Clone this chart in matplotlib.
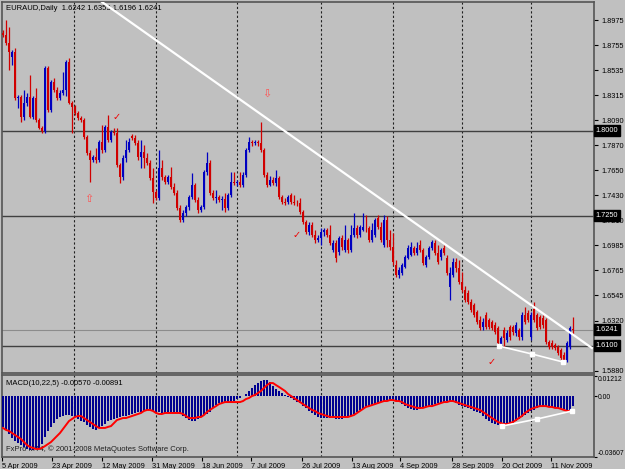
# ===[ Imports ]===============================================================
import matplotlib
matplotlib.use("Agg")
import matplotlib.pyplot as plt

plt.rcParams['font.family'] = ['Liberation Sans', 'DejaVu Sans']

# ===[ Data ]==================================================================
opens = [
    1.8863, 1.8846, 1.8774, 1.8651, 1.8695, 1.8288, 1.8297, 1.8121, 1.8244, 1.8297,
    1.8121, 1.8288, 1.8094, 1.8023, 1.7997, 1.8554, 1.8183, 1.8430, 1.8359, 1.8288,
    1.8332, 1.8359, 1.8607, 1.8244, 1.8209, 1.8156, 1.8112, 1.8094, 1.7944, 1.7802,
    1.7741, 1.7767, 1.7741, 1.7899, 1.7829, 1.8032, 1.7917, 1.7988, 1.7979, 1.7697,
    1.7590, 1.7758, 1.7829, 1.7953, 1.7935, 1.7890, 1.7767, 1.7811, 1.7758, 1.7714,
    1.7581, 1.7457, 1.7404, 1.7670, 1.7590, 1.7546, 1.7590, 1.7502, 1.7448, 1.7316,
    1.7210, 1.7272, 1.7325, 1.7413, 1.7520, 1.7387, 1.7299, 1.7325, 1.7634, 1.7714,
    1.7448, 1.7404, 1.7413, 1.7387, 1.7395, 1.7316, 1.7431, 1.7546, 1.7537, 1.7546,
    1.7520, 1.7608, 1.7829, 1.7899, 1.7890, 1.7899, 1.7890, 1.7829, 1.7608, 1.7520,
    1.7564, 1.7537, 1.7581, 1.7413, 1.7369, 1.7369, 1.7431, 1.7369, 1.7360, 1.7360,
    1.7281, 1.7192, 1.7104, 1.7166, 1.7077, 1.7033, 1.7051, 1.7104, 1.7122, 1.7077,
    1.6945, 1.7007, 1.6927, 1.7051, 1.6945, 1.7033, 1.6945, 1.7077, 1.7139, 1.7077,
    1.7122, 1.7139, 1.7139, 1.7033, 1.7077, 1.7228, 1.7148, 1.6989, 1.7210, 1.7033,
    1.6971, 1.6813, 1.6724, 1.6742, 1.6795, 1.6874, 1.6901, 1.6963, 1.6918, 1.6989,
    1.6945, 1.6813, 1.6883, 1.6963, 1.7007, 1.6918, 1.6883, 1.6963, 1.6874, 1.6618,
    1.6724, 1.6839, 1.6786, 1.6662, 1.6591, 1.6565, 1.6485, 1.6459, 1.6397, 1.6326,
    1.6264, 1.6371, 1.6326, 1.6309, 1.6282, 1.6256, 1.6105, 1.6238, 1.6149, 1.6264,
    1.6264, 1.6211, 1.6238, 1.6176, 1.6371, 1.6388, 1.6176, 1.6424, 1.6371, 1.6353,
    1.6344, 1.6326, 1.6131, 1.6123, 1.6105, 1.6088, 1.6061, 1.6017, 1.5973, 1.6088,
    1.6242]
highs = [
    1.8890, 1.8978, 1.8916, 1.8713, 1.8730, 1.8315, 1.8315, 1.8359, 1.8332, 1.8492,
    1.8306, 1.8377, 1.8112, 1.8041, 1.8572, 1.8572, 1.8448, 1.8465, 1.8386, 1.8359,
    1.8518, 1.8625, 1.8642, 1.8262, 1.8227, 1.8174, 1.8130, 1.8112, 1.7962, 1.7829,
    1.7785, 1.7846, 1.7917, 1.8050, 1.8050, 1.8139, 1.8006, 1.8023, 1.8023, 1.7714,
    1.7785, 1.7917, 1.7935, 1.7971, 1.7962, 1.7917, 1.7917, 1.7873, 1.7802, 1.7741,
    1.7670, 1.7475, 1.7829, 1.7741, 1.7608, 1.7608, 1.7679, 1.7537, 1.7475, 1.7343,
    1.7299, 1.7343, 1.7431, 1.7625, 1.7537, 1.7413, 1.7343, 1.7652, 1.7811, 1.7741,
    1.7475, 1.7475, 1.7431, 1.7422, 1.7448, 1.7448, 1.7634, 1.7634, 1.7564, 1.7634,
    1.7634, 1.7846, 1.7944, 1.7917, 1.7917, 1.7917, 1.8076, 1.7846, 1.7634, 1.7599,
    1.7590, 1.7652, 1.7599, 1.7431, 1.7404, 1.7431, 1.7448, 1.7431, 1.7387, 1.7404,
    1.7299, 1.7210, 1.7192, 1.7192, 1.7122, 1.7077, 1.7139, 1.7139, 1.7139, 1.7166,
    1.7033, 1.7033, 1.7068, 1.7077, 1.7166, 1.7051, 1.7166, 1.7272, 1.7166, 1.7166,
    1.7272, 1.7254, 1.7157, 1.7184, 1.7228, 1.7254, 1.7192, 1.7254, 1.7246, 1.7122,
    1.7095, 1.6857, 1.6795, 1.6830, 1.6901, 1.6989, 1.7015, 1.6980, 1.7015, 1.7033,
    1.6963, 1.6901, 1.6980, 1.7033, 1.7033, 1.6989, 1.6963, 1.6989, 1.6901, 1.6795,
    1.6874, 1.6874, 1.6857, 1.6751, 1.6627, 1.6591, 1.6512, 1.6477, 1.6415, 1.6362,
    1.6344, 1.6397, 1.6344, 1.6326, 1.6309, 1.6273, 1.6185, 1.6264, 1.6238, 1.6282,
    1.6282, 1.6309, 1.6256, 1.6397, 1.6441, 1.6415, 1.6397, 1.6485, 1.6388, 1.6371,
    1.6371, 1.6344, 1.6149, 1.6149, 1.6123, 1.6105, 1.6079, 1.6043, 1.6140, 1.6273,
    1.6353]
lows = [
    1.8828, 1.8757, 1.8536, 1.8581, 1.8271, 1.8200, 1.8076, 1.8094, 1.8218, 1.8112,
    1.8103, 1.8076, 1.8014, 1.7979, 1.7979, 1.8165, 1.8165, 1.8341, 1.8271, 1.8271,
    1.8315, 1.8306, 1.8236, 1.7979, 1.8139, 1.8094, 1.8076, 1.7926, 1.7785, 1.7546,
    1.7723, 1.7714, 1.7723, 1.7802, 1.7811, 1.7899, 1.7899, 1.7962, 1.7679, 1.7537,
    1.7564, 1.7723, 1.7811, 1.7917, 1.7873, 1.7741, 1.7670, 1.7670, 1.7697, 1.7564,
    1.7360, 1.7387, 1.7387, 1.7564, 1.7529, 1.7529, 1.7484, 1.7431, 1.7299, 1.7192,
    1.7192, 1.7246, 1.7299, 1.7395, 1.7369, 1.7272, 1.7281, 1.7307, 1.7608, 1.7431,
    1.7387, 1.7360, 1.7369, 1.7299, 1.7281, 1.7299, 1.7413, 1.7520, 1.7511, 1.7502,
    1.7502, 1.7590, 1.7811, 1.7864, 1.7873, 1.7864, 1.7811, 1.7590, 1.7502, 1.7511,
    1.7520, 1.7511, 1.7395, 1.7351, 1.7343, 1.7351, 1.7351, 1.7343, 1.7334, 1.7263,
    1.7175, 1.7086, 1.7077, 1.7060, 1.7007, 1.7015, 1.6989, 1.7068, 1.7060, 1.6989,
    1.6927, 1.6839, 1.6901, 1.6945, 1.6927, 1.6918, 1.6927, 1.7060, 1.7051, 1.7060,
    1.7113, 1.7104, 1.7015, 1.7015, 1.7060, 1.7130, 1.7015, 1.6971, 1.6971, 1.6945,
    1.6813, 1.6706, 1.6697, 1.6724, 1.6786, 1.6866, 1.6892, 1.6901, 1.6901, 1.6927,
    1.6813, 1.6795, 1.6866, 1.6945, 1.6901, 1.6822, 1.6857, 1.6901, 1.6724, 1.6503,
    1.6706, 1.6751, 1.6644, 1.6574, 1.6485, 1.6468, 1.6397, 1.6353, 1.6291, 1.6238,
    1.6238, 1.6247, 1.6247, 1.6238, 1.6203, 1.6105, 1.6088, 1.6088, 1.6131, 1.6149,
    1.6194, 1.6185, 1.6149, 1.6149, 1.6291, 1.6309, 1.6149, 1.6309, 1.6238, 1.6247,
    1.6256, 1.6114, 1.6070, 1.6070, 1.6061, 1.6017, 1.5973, 1.5955, 1.5955, 1.6070,
    1.6196]
closes = [
    1.8846, 1.8774, 1.8695, 1.8695, 1.8288, 1.8297, 1.8121, 1.8244, 1.8297, 1.8121,
    1.8288, 1.8094, 1.8023, 1.7997, 1.8554, 1.8183, 1.8430, 1.8359, 1.8288, 1.8332,
    1.8359, 1.8607, 1.8244, 1.8209, 1.8156, 1.8112, 1.8094, 1.7944, 1.7802, 1.7741,
    1.7767, 1.7741, 1.7899, 1.7829, 1.8032, 1.7917, 1.7988, 1.7979, 1.7697, 1.7590,
    1.7758, 1.7829, 1.7899, 1.7935, 1.7890, 1.7767, 1.7811, 1.7758, 1.7714, 1.7581,
    1.7457, 1.7404, 1.7670, 1.7590, 1.7546, 1.7590, 1.7502, 1.7448, 1.7316, 1.7210,
    1.7272, 1.7325, 1.7413, 1.7520, 1.7387, 1.7299, 1.7325, 1.7634, 1.7714, 1.7448,
    1.7404, 1.7413, 1.7387, 1.7395, 1.7316, 1.7431, 1.7546, 1.7537, 1.7546, 1.7520,
    1.7608, 1.7829, 1.7899, 1.7890, 1.7899, 1.7890, 1.7829, 1.7608, 1.7520, 1.7564,
    1.7537, 1.7581, 1.7413, 1.7369, 1.7360, 1.7413, 1.7369, 1.7360, 1.7360, 1.7281,
    1.7192, 1.7104, 1.7166, 1.7077, 1.7033, 1.7051, 1.7104, 1.7122, 1.7077, 1.7007,
    1.7007, 1.6874, 1.7051, 1.6971, 1.7033, 1.6945, 1.7077, 1.7139, 1.7077, 1.7148,
    1.7148, 1.7139, 1.7033, 1.7122, 1.7210, 1.7148, 1.7033, 1.7210, 1.7033, 1.6971,
    1.6839, 1.6724, 1.6768, 1.6813, 1.6883, 1.6963, 1.6971, 1.6918, 1.6963, 1.6945,
    1.6830, 1.6883, 1.6963, 1.7015, 1.6918, 1.6839, 1.6945, 1.6918, 1.6742, 1.6742,
    1.6839, 1.6786, 1.6662, 1.6591, 1.6503, 1.6485, 1.6415, 1.6371, 1.6309, 1.6256,
    1.6309, 1.6264, 1.6264, 1.6256, 1.6220, 1.6123, 1.6167, 1.6167, 1.6211, 1.6176,
    1.6220, 1.6282, 1.6176, 1.6371, 1.6309, 1.6326, 1.6371, 1.6326, 1.6256, 1.6264,
    1.6282, 1.6131, 1.6088, 1.6088, 1.6079, 1.6035, 1.5990, 1.5973, 1.6123, 1.6256,
    1.6241]

macd_main = [
    -0.0184, -0.0202, -0.0226, -0.0250, -0.0268, -0.0280, -0.0292, -0.0303, -0.0315, -0.0321,
    -0.0321, -0.0315, -0.0309, -0.0286, -0.0244, -0.0208, -0.0184, -0.0161, -0.0137, -0.0125,
    -0.0119, -0.0113, -0.0113, -0.0119, -0.0125, -0.0137, -0.0149, -0.0155, -0.0173, -0.0184,
    -0.0196, -0.0202, -0.0190, -0.0179, -0.0167, -0.0149, -0.0143, -0.0137, -0.0131, -0.0125,
    -0.0119, -0.0119, -0.0113, -0.0107, -0.0101, -0.0095, -0.0095, -0.0089, -0.0083, -0.0083,
    -0.0089, -0.0095, -0.0095, -0.0101, -0.0101, -0.0101, -0.0101, -0.0101, -0.0101, -0.0107,
    -0.0119, -0.0131, -0.0143, -0.0149, -0.0149, -0.0137, -0.0125, -0.0113, -0.0107, -0.0095,
    -0.0071, -0.0054, -0.0042, -0.0042, -0.0036, -0.0036, -0.0036, -0.0030, -0.0018, -0.0012,
    -0.0002, 0.0012, 0.0030, 0.0048, 0.0065, 0.0077, 0.0089, 0.0095, 0.0095, 0.0083,
    0.0060, 0.0042, 0.0030, 0.0018, 0.0006, -0.0006, -0.0012, -0.0024, -0.0036, -0.0042,
    -0.0060, -0.0071, -0.0089, -0.0101, -0.0113, -0.0125, -0.0131, -0.0131, -0.0131, -0.0131,
    -0.0131, -0.0137, -0.0137, -0.0137, -0.0131, -0.0125, -0.0119, -0.0107, -0.0095, -0.0083,
    -0.0077, -0.0065, -0.0060, -0.0054, -0.0048, -0.0042, -0.0036, -0.0030, -0.0024, -0.0024,
    -0.0024, -0.0030, -0.0036, -0.0048, -0.0060, -0.0071, -0.0077, -0.0083, -0.0083, -0.0077,
    -0.0071, -0.0065, -0.0060, -0.0054, -0.0048, -0.0042, -0.0042, -0.0036, -0.0030, -0.0030,
    -0.0036, -0.0042, -0.0054, -0.0060, -0.0065, -0.0071, -0.0077, -0.0089, -0.0095, -0.0101,
    -0.0119, -0.0137, -0.0149, -0.0161, -0.0167, -0.0173, -0.0179, -0.0179, -0.0173, -0.0167,
    -0.0161, -0.0149, -0.0137, -0.0125, -0.0113, -0.0101, -0.0089, -0.0083, -0.0071, -0.0065,
    -0.0065, -0.0065, -0.0065, -0.0065, -0.0071, -0.0071, -0.0071, -0.0077, -0.0083, -0.0089,
    -0.0057]
macd_signal = [
    -0.0190, -0.0202, -0.0208, -0.0220, -0.0232, -0.0244, -0.0256, -0.0274, -0.0292, -0.0303,
    -0.0309, -0.0315, -0.0315, -0.0309, -0.0298, -0.0286, -0.0274, -0.0256, -0.0238, -0.0220,
    -0.0196, -0.0173, -0.0149, -0.0137, -0.0125, -0.0119, -0.0119, -0.0131, -0.0143, -0.0155,
    -0.0167, -0.0179, -0.0190, -0.0190, -0.0190, -0.0184, -0.0179, -0.0161, -0.0143, -0.0137,
    -0.0131, -0.0131, -0.0125, -0.0119, -0.0113, -0.0107, -0.0101, -0.0089, -0.0083, -0.0083,
    -0.0089, -0.0101, -0.0107, -0.0107, -0.0101, -0.0101, -0.0101, -0.0101, -0.0101, -0.0101,
    -0.0107, -0.0119, -0.0131, -0.0131, -0.0131, -0.0125, -0.0125, -0.0113, -0.0095, -0.0083,
    -0.0071, -0.0060, -0.0048, -0.0042, -0.0036, -0.0036, -0.0036, -0.0036, -0.0036, -0.0036,
    -0.0030, -0.0018, -0.0012, 0.0000, 0.0006, 0.0018, 0.0030, 0.0048, 0.0065, 0.0077,
    0.0077, 0.0065, 0.0054, 0.0042, 0.0030, 0.0012, 0.0000, -0.0012, -0.0024, -0.0036,
    -0.0048, -0.0060, -0.0071, -0.0083, -0.0089, -0.0101, -0.0107, -0.0113, -0.0119, -0.0125,
    -0.0125, -0.0125, -0.0125, -0.0125, -0.0125, -0.0125, -0.0119, -0.0113, -0.0101, -0.0089,
    -0.0077, -0.0065, -0.0060, -0.0054, -0.0048, -0.0042, -0.0036, -0.0030, -0.0030, -0.0024,
    -0.0024, -0.0030, -0.0030, -0.0036, -0.0048, -0.0054, -0.0060, -0.0065, -0.0071, -0.0071,
    -0.0071, -0.0065, -0.0060, -0.0060, -0.0054, -0.0048, -0.0042, -0.0036, -0.0036, -0.0030,
    -0.0030, -0.0036, -0.0042, -0.0048, -0.0054, -0.0060, -0.0065, -0.0071, -0.0077, -0.0083,
    -0.0095, -0.0107, -0.0119, -0.0131, -0.0143, -0.0155, -0.0161, -0.0167, -0.0167, -0.0161,
    -0.0155, -0.0143, -0.0131, -0.0119, -0.0101, -0.0089, -0.0077, -0.0071, -0.0065, -0.0060,
    -0.0060, -0.0060, -0.0065, -0.0065, -0.0071, -0.0071, -0.0077, -0.0083, -0.0089, -0.0089,
    -0.0089]

date_labels = ["5 Apr 2009", "23 Apr 2009", "12 May 2009", "31 May 2009",
               "18 Jun 2009", "7 Jul 2009", "26 Jul 2009", "13 Aug 2009",
               "4 Sep 2009", "28 Sep 2009", "20 Oct 2009", "11 Nov 2009"]
date_bars = [-0.3, 16.3, 33, 49.7, 66.3, 82.7, 99.7, 116.3, 132.3, 149.7,
             166.3, 182.7]
month_bars = [23.7, 51, 78, 106, 130, 153, 176]

# 1.6100 sits under its own level box, so it is not repeated as a tick
price_ticks = [1.8975, 1.8755, 1.8535, 1.8315, 1.8090, 1.7870, 1.7650,
               1.7430, 1.7210, 1.6985, 1.6765, 1.6545, 1.6320, 1.5880]
levels = [1.8000, 1.7250, 1.6100]
bid = 1.6241

macd_ticks = [0.01212, 0.0, -0.03607]
macd_tick_labels = ['0.01212', '0.00', '-0.03607']

trend_bars = [33, 196.3]
trend_prices = [1.9137, 1.6079]
low_line_bars = [165.3, 176.3, 186.7]
low_line_prices = [1.6096, 1.6026, 1.5955]
macd_line_bars = [166.3, 178, 189.7]
macd_line_vals = [-0.0179, -0.0137, -0.0089]

arrow_up = (28.7, 1.7395)
arrow_down = (88, 1.8324)
check_marks = [(38, 1.8121), (97.7, 1.7077), (163, 1.5955)]

# ===[ Figure layout ]=========================================================
BG = '#c0c0c0'
fig = plt.figure(figsize=(6.25, 4.69), dpi=100, facecolor=BG)
ax = fig.add_axes([2 / 625, 1 - 373 / 469, 592 / 625, 371 / 469], facecolor=BG)
ax2 = fig.add_axes([2 / 625, 1 - 457 / 469, 592 / 625, 82 / 469], facecolor=BG)

for a in (ax, ax2):
    for s in a.spines.values():
        s.set_color('#555555')
        s.set_linewidth(1.2)
    a.set_xlim(-0.33, 197)
    for m in month_bars:
        a.axvline(m, color='#202020', lw=0.8, ls=(0, (2, 2)), zorder=1)

# ===[ Candles ]===============================================================
idx = list(range(len(closes)))
cols = ['#0000c0' if c > o else '#d00000' for o, c in zip(opens, closes)]
bottoms = [min(o, c) for o, c in zip(opens, closes)]
heights = [max(abs(c - o), 0.0004) for o, c in zip(opens, closes)]
ax.vlines(idx, lows, highs, colors=cols, lw=0.9, zorder=3)
ax.bar(idx, heights, bottom=bottoms, width=0.7, color=cols, lw=0, zorder=4)

for lv in levels:
    ax.axhline(lv, color='#404040', lw=1.0, zorder=2)
ax.axhline(bid, color='#8c8c8c', lw=0.8, zorder=2)

ax.plot(trend_bars, trend_prices, color='white', lw=1.6, zorder=5)
ax.plot(low_line_bars, low_line_prices, color='white', lw=1.2, marker='s',
        ms=3, zorder=5)

ax.text(arrow_up[0], arrow_up[1], '\u21e7', color='#ff5050', fontsize=8,
        ha='center', va='center', zorder=6)
ax.text(arrow_down[0], arrow_down[1], '\u21e9', color='#ff5050', fontsize=8,
        ha='center', va='center', zorder=6)
for bx, by in check_marks:
    ax.text(bx, by, '\u2713', color='#ee0000', fontsize=7, ha='center',
            va='center', zorder=6)

ax.set_ylim(1.5858, 1.9137)
ax.set_xticks([])
ax.yaxis.tick_right()
ax.set_yticks(price_ticks)
ax.set_yticklabels([f'{p:.4f}' for p in price_ticks])
ax.tick_params(axis='y', length=3, width=0.8, pad=2, labelsize=5.3,
               colors='black')

for lv in levels + [bid]:
    ax.text(1.003, lv, f'{lv:.4f}', transform=ax.get_yaxis_transform(),
            ha='left', va='center', color='white', fontsize=5.3,
            bbox=dict(fc='black', ec='black', pad=1.2), zorder=10,
            clip_on=False)

ax.text(0.006, 0.993, 'EURAUD,Daily  1.6242 1.6353 1.6196 1.6241',
        transform=ax.transAxes, ha='left', va='top', fontsize=5.5)

# ===[ MACD ]==================================================================
ax2.bar(idx, macd_main, width=0.62, color='#000090', lw=0, zorder=3)
ax2.plot(idx, macd_signal, color='#ff0000', lw=1.4, zorder=4)
ax2.plot(macd_line_bars, macd_line_vals, color='white', lw=1.2, marker='s',
         ms=3, zorder=5)
ax2.set_ylim(-0.0363, 0.0125)

ax2.text(0.006, 0.9, 'MACD(10,22,5) -0.00570 -0.00891',
         transform=ax2.transAxes, ha='left', va='center', fontsize=5.5,
         zorder=6)
ax2.text(0.006, 0.1, 'FxPro MT4, \u00a9 2001-2008 MetaQuotes Software Corp.',
         transform=ax2.transAxes, ha='left', va='center', fontsize=5.5,
         color='#202020', zorder=2)

ax2.yaxis.tick_right()
ax2.set_yticks(macd_ticks)
ax2.set_yticklabels(macd_tick_labels)
ax2.tick_params(axis='y', length=2, width=0.8, pad=1, labelsize=4.9,
                colors='black')
ylabels = ax2.get_yticklabels()
ylabels[0].set_va('top')
ylabels[2].set_va('bottom')

ax2.set_xticks(date_bars)
ax2.set_xticklabels(date_labels, ha='left')
ax2.tick_params(axis='x', length=3, width=0.8, pad=1, labelsize=5.3,
                colors='black')

fig.savefig('out.png', dpi=100, facecolor=BG)
